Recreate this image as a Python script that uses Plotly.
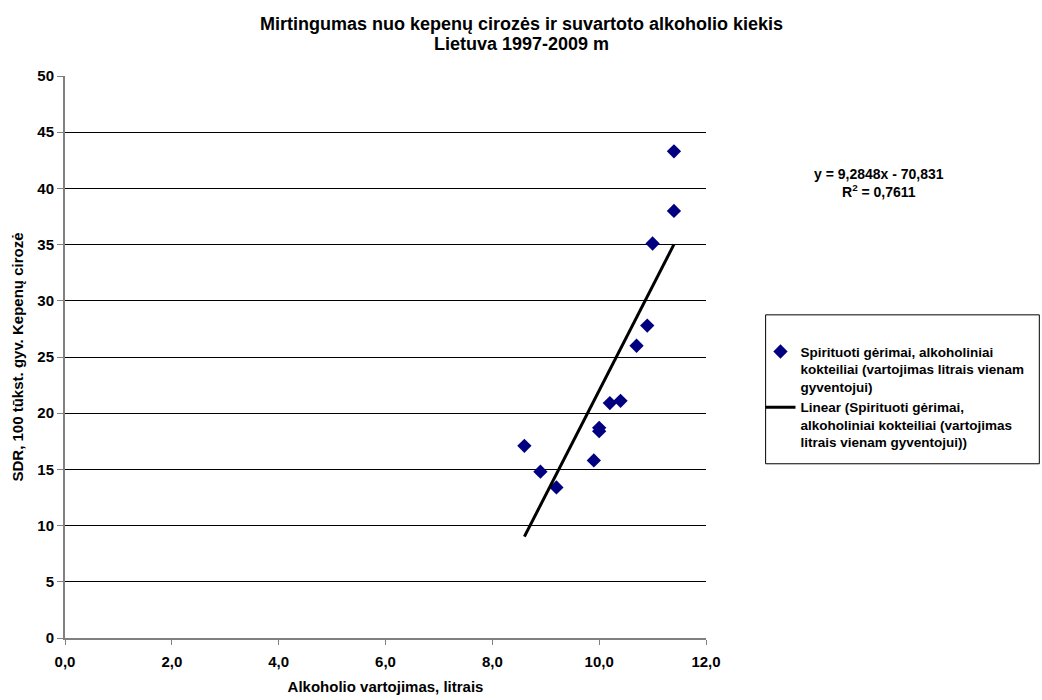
import plotly.graph_objects as go

# Alcohol consumption (litres per capita) and liver cirrhosis SDR, Lithuania 1997-2009
alcohol_litres = [8.6, 8.9, 9.2, 9.9, 10.0, 10.0, 10.2, 10.4, 10.7, 10.9, 11.0, 11.4, 11.4]
cirrhosis_sdr = [17.1, 14.8, 13.4, 15.8, 18.4, 18.7, 20.9, 21.1, 26.0, 27.8, 35.1, 38.0, 43.3]

# Linear trend coefficients
slope = 9.2848
intercept = -70.831
r_squared = 0.7611

trend_x = [min(alcohol_litres), max(alcohol_litres)]
trend_y = [slope * v + intercept for v in trend_x]

x_ticks = [0, 2, 4, 6, 8, 10, 12]
y_ticks = [0, 5, 10, 15, 20, 25, 30, 35, 40, 45, 50]
x_tick_text = [f"<b>{v:.1f}</b>".replace(".", ",") for v in x_ticks]
y_tick_text = [f"<b>{v}</b>" for v in y_ticks]

title_lines = ["Mirtingumas nuo kepenų cirozės ir suvartoto alkoholio kiekis",
               "Lietuva 1997-2009 m"]

FONT = "Liberation Sans, Arial, sans-serif"


def comma(v):
    return str(v).replace(".", ",")


fig = go.Figure()
fig.add_trace(go.Scatter(
    x=alcohol_litres, y=cirrhosis_sdr, mode="markers",
    marker=dict(symbol="diamond", size=11, color="#000080"),
    name="<b>Spirituoti gėrimai, alkoholiniai<br>kokteiliai (vartojimas litrais vienam<br>gyventojui)</b>",
))
fig.add_trace(go.Scatter(
    x=trend_x, y=trend_y, mode="lines",
    line=dict(color="black", width=3),
    name="<b>Linear (Spirituoti gėrimai,<br>alkoholiniai kokteiliai (vartojimas<br>litrais vienam gyventojui))</b>",
))

fig.update_layout(
    width=1042, height=700,
    margin=dict(l=65, r=336, t=76, b=62, autoexpand=False),
    paper_bgcolor="white", plot_bgcolor="white",
    font=dict(family=FONT, size=12, color="black"),
    xaxis=dict(
        range=[0, 12], tickvals=x_ticks, ticktext=x_tick_text,
        showgrid=False, zeroline=False, automargin=False,
        showline=True, linecolor="#808080", linewidth=2,
        ticks="outside", ticklen=5, tickcolor="#808080",
        ticklabelstandoff=4,
        tickfont=dict(family=FONT, size=15, color="black"),
        title=dict(text="<b>Alkoholio vartojimas, litrais</b>", standoff=12,
                   font=dict(family=FONT, size=15, color="black")),
    ),
    yaxis=dict(
        range=[0, 50], tickvals=y_ticks, ticktext=y_tick_text,
        showgrid=True, gridcolor="black", gridwidth=1, zeroline=False, automargin=False,
        showline=True, linecolor="#808080", linewidth=2,
        ticks="outside", ticklen=6, tickcolor="#808080",
        tickfont=dict(family=FONT, size=15, color="black"),
        title=dict(text="<b>SDR, 100 tūkst. gyv. Kepenų cirozė</b>", standoff=10,
                   font=dict(family=FONT, size=15, color="black")),
    ),
    legend=dict(
        x=1.085, y=0.537, xanchor="left", yanchor="top",
        borderwidth=0, bgcolor="rgba(0,0,0,0)",
        font=dict(family=FONT, size=13.5, color="black"),
        tracegroupgap=0, itemwidth=30, valign="top",
    ),
    showlegend=True,
)

# Chart title, one annotation per line for tight line spacing
for line, ypos in zip(title_lines, [1.0925, 1.057]):
    fig.add_annotation(
        xref="paper", yref="paper", x=0.712, y=ypos, xanchor="center", yanchor="middle",
        text=f"<b>{line}</b>", showarrow=False,
        font=dict(family=FONT, size=18, color="black"),
    )

# Trendline equation
fig.add_annotation(
    xref="paper", yref="paper", x=1.27, y=0.81, xanchor="center", yanchor="middle",
    text=f"<b>y = {comma(slope)}x - {comma(abs(intercept))}<br>R<sup>2</sup> = {comma(r_squared)}</b>",
    showarrow=False, align="center",
    font=dict(family=FONT, size=14, color="black"),
)

# Legend frame
fig.add_shape(
    type="rect", xref="paper", yref="paper",
    x0=1.093, x1=1.52, y0=0.31, y1=0.575,
    line=dict(color="black", width=1), fillcolor="rgba(0,0,0,0)",
)

fig.write_html("out.html")
